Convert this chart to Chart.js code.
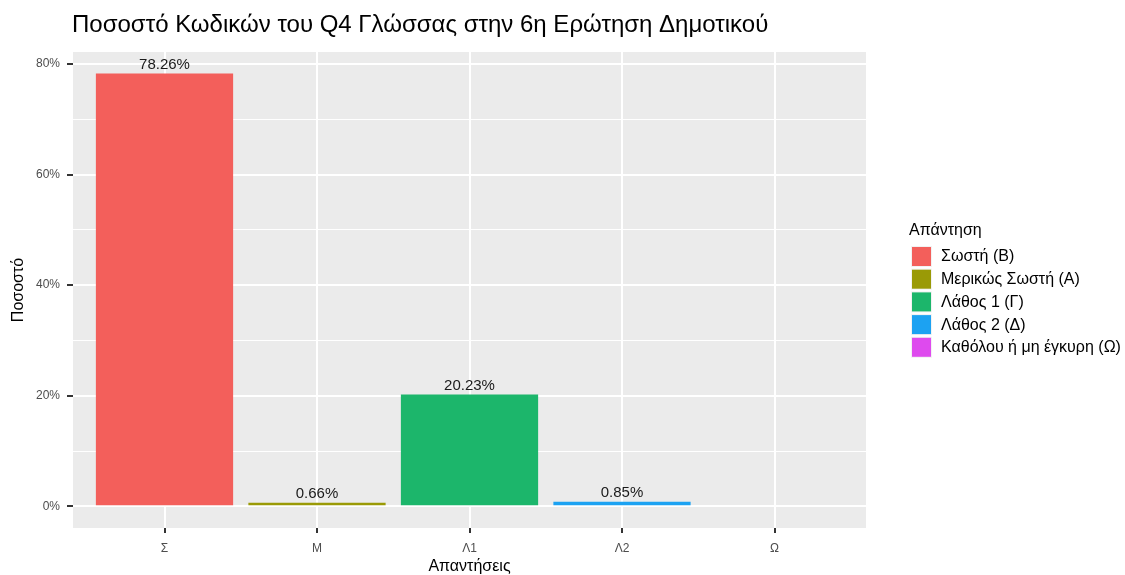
<!DOCTYPE html>
<html><head><meta charset="utf-8">
<script src="https://cdn.jsdelivr.net/npm/chart.js@4"></script>
<style>html,body{margin:0;padding:0;background:#fff;}canvas{display:block;}</style>
</head><body>
<canvas id="c" width="1125" height="575"></canvas>
<script>
const TITLE = 'Ποσοστό Κωδικών του Q4 Γλώσσας στην 6η Ερώτηση Δημοτικού';
const X_TITLE = 'Απαντήσεις';
const Y_TITLE = 'Ποσοστό';
const LEGEND_TITLE = 'Απάντηση';
const CATEGORIES = ['Σ', 'Μ', 'Λ1', 'Λ2', 'Ω'];
const VALUES = [78.26, 0.66, 20.23, 0.85, null];
const VALUE_LABELS = ['78.26%', '0.66%', '20.23%', '0.85%', ''];
const LEGEND_LABELS = ['Σωστή (Β)', 'Μερικώς Σωστή (Α)', 'Λάθος 1 (Γ)', 'Λάθος 2 (Δ)', 'Καθόλου ή μη έγκυρη (Ω)'];
const COLORS = ['#F35F5B', '#9A9A06', '#1CB66B', '#1CA2F2', '#DE4AEE'];
const Y_TICKS = [0, 10, 20, 30, 40, 50, 60, 70, 80];
const Y_MAJOR = [0, 20, 40, 60, 80];
const Y_TICK_LABELS = ['0%', '20%', '40%', '60%', '80%'];

const FONT = "'Liberation Sans', Arial, Helvetica, sans-serif";

const isMajor = v => Y_MAJOR.includes(v);

const panelBg = {
  id: 'panelBg',
  beforeDraw(chart) {
    const {ctx, chartArea: a} = chart;
    ctx.save();
    ctx.fillStyle = '#EBEBEB';
    ctx.fillRect(a.left, a.top, a.right - a.left, a.bottom - a.top);
    ctx.restore();
  }
};

const extras = {
  id: 'extras',
  afterDraw(chart) {
    const {ctx} = chart;
    ctx.save();
    // title
    ctx.fillStyle = '#000';
    ctx.font = '24px ' + FONT;
    ctx.textAlign = 'left';
    ctx.textBaseline = 'middle';
    ctx.fillText(TITLE, 72, 25);
    // value labels
    const meta = chart.getDatasetMeta(0);
    ctx.font = '15px ' + FONT;
    ctx.fillStyle = '#1A1A1A';
    ctx.textAlign = 'center';
    ctx.textBaseline = 'bottom';
    meta.data.forEach((bar, i) => {
      if (VALUES[i] == null) return;
      ctx.fillText(VALUE_LABELS[i], bar.x, bar.y - 1);
    });
    // legend
    ctx.textAlign = 'left';
    ctx.textBaseline = 'middle';
    ctx.fillStyle = '#000';
    ctx.font = '16px ' + FONT;
    ctx.fillText(LEGEND_TITLE, 909, 231);
    LEGEND_LABELS.forEach((lab, i) => {
      const y = 247 + i * 22.7;
      ctx.fillStyle = '#F2F2F2';
      ctx.fillRect(911, y - 1, 21, 21);
      ctx.fillStyle = COLORS[i];
      ctx.fillRect(912, y, 19, 19);
      ctx.fillStyle = '#000';
      ctx.fillText(lab, 941, y + 10);
    });
    ctx.restore();
  }
};

new Chart(document.getElementById('c'), {
  type: 'bar',
  data: {
    datasets: [{
      data: CATEGORIES.map((c, i) => ({x: i, y: VALUES[i]})),
      backgroundColor: COLORS,
      borderWidth: 0,
      categoryPercentage: 1,
      barPercentage: 0.9
    }]
  },
  options: {
    responsive: false,
    animation: false,
    layout: {padding: {top: 52, right: 259, bottom: 0, left: 0}},
    plugins: {legend: {display: false}, title: {display: false}, tooltip: {enabled: false}},
    scales: {
      x: {
        type: 'linear',
        offset: false,
        min: -0.6,
        max: 4.6,
        afterBuildTicks: s => { s.ticks = CATEGORIES.map((c, i) => ({value: i})); },
        afterFit: s => { s.height = 47; },
        ticks: {
          callback: v => CATEGORIES[v] ?? '',
          color: '#4D4D4D',
          font: {family: FONT, size: 12},
          padding: 8,
          autoSkip: false,
          maxRotation: 0
        },
        grid: {offset: false, color: '#FFFFFF', lineWidth: 2, tickColor: '#333333', tickWidth: 2, tickLength: 5},
        border: {display: false},
        title: {display: true, text: X_TITLE, color: '#000', font: {family: FONT, size: 16, lineHeight: 1.0}, padding: {top: 0, bottom: 0}}
      },
      y: {
        type: 'linear',
        min: -3.913,
        max: 82.17,
        afterBuildTicks: s => { s.ticks = Y_TICKS.map(v => ({value: v})); },
        afterFit: s => { s.width = 73; },
        ticks: {
          callback: v => isMajor(v) ? Y_TICK_LABELS[Y_MAJOR.indexOf(v)] : '',
          color: '#4D4D4D',
          font: {family: FONT, size: 12},
          padding: 7,
          autoSkip: false
        },
        grid: {
          color: '#FFFFFF',
          lineWidth: c => (c.tick && isMajor(c.tick.value)) ? 2 : 1,
          tickColor: c => (c.tick && isMajor(c.tick.value)) ? '#333333' : 'rgba(0,0,0,0)',
          tickWidth: 2,
          tickLength: 6
        },
        border: {display: false},
        title: {display: true, text: Y_TITLE, color: '#000', font: {family: FONT, size: 16}, padding: {top: 9, bottom: 0}}
      }
    }
  },
  plugins: [panelBg, extras]
});
</script>
</body></html>
